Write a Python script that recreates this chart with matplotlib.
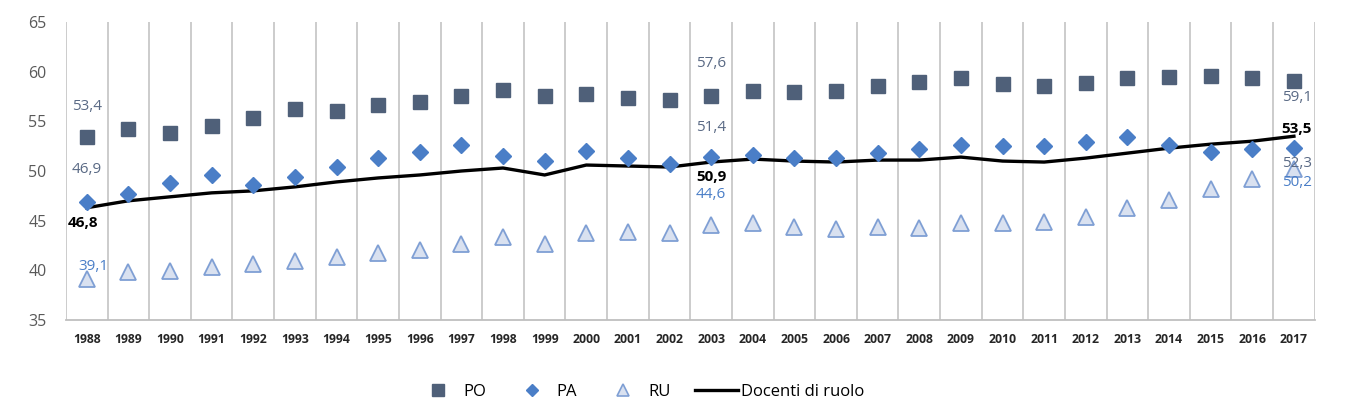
import matplotlib
matplotlib.use("Agg")
import matplotlib.pyplot as plt
from matplotlib.lines import Line2D

years = [str(y) for y in range(1988, 2018)]
po = [53.4, 54.2, 53.8, 54.5, 55.3, 56.2, 56.0, 56.6, 56.9, 57.6,
      58.2, 57.6, 57.8, 57.3, 57.1, 57.6, 58.1, 58.0, 58.1, 58.6,
      59.0, 59.4, 58.8, 58.6, 58.9, 59.4, 59.5, 59.6, 59.4, 59.1]
pa = [46.9, 47.7, 48.8, 49.6, 48.6, 49.4, 50.4, 51.3, 51.9, 52.6,
      51.5, 51.0, 52.0, 51.3, 50.7, 51.4, 51.6, 51.3, 51.3, 51.8,
      52.2, 52.6, 52.5, 52.5, 52.9, 53.4, 52.6, 51.9, 52.2, 52.3]
ru = [39.1, 39.8, 39.9, 40.3, 40.6, 40.9, 41.3, 41.7, 42.0, 42.7,
      43.4, 42.7, 43.8, 43.9, 43.8, 44.6, 44.8, 44.4, 44.2, 44.4,
      44.3, 44.8, 44.8, 44.9, 45.4, 46.3, 47.1, 48.2, 49.2, 50.2]
docenti = [46.3, 47.0, 47.4, 47.8, 48.0, 48.4, 48.9, 49.3, 49.6, 50.0,
           50.3, 49.6, 50.6, 50.5, 50.4, 50.9, 51.2, 51.0, 50.9, 51.1,
           51.1, 51.4, 51.0, 50.9, 51.3, 51.8, 52.3, 52.7, 53.0, 53.5]
doc_labels = {0: "46,8", 15: "50,9", 29: "53,5"}
labeled_idx = [0, 15, 29]

C_PO = "#4F6079"
C_PA = "#4A7EC7"
C_RU_FACE = "#D9E1F0"
C_RU_EDGE = "#7F9FD4"
C_LBL = "#5A6A85"
GRID = "#BFBFBF"

plt.rcParams['font.family'] = ['Open Sans', 'DejaVu Sans']

fig = plt.figure(figsize=(13.54, 4.12), dpi=100)
ax = fig.add_axes([0.0487, 0.2233, 0.9223, 0.7233])

x = list(range(len(years)))
ax.plot(x, docenti, color="black", lw=2.4, zorder=2)
ax.plot(x, po, ls="none", marker="s", ms=10.5, color=C_PO, zorder=3)
ax.plot(x, pa, ls="none", marker="D", ms=8, color=C_PA, zorder=3)
ax.plot(x, ru, ls="none", marker="^", ms=11, mfc=C_RU_FACE, mec=C_RU_EDGE,
        mew=1.3, zorder=3)

ax.set_xlim(-0.5, len(years) - 0.5)
ax.set_ylim(35, 65)
ax.set_yticks(range(35, 66, 5))
ax.set_xticks(x)
ax.set_xticklabels(years, fontsize=8.8, fontweight="bold", color="#262626")
ax.tick_params(axis="x", length=0, pad=9)
ax.tick_params(axis="y", length=0, pad=14, labelsize=11.5, labelcolor="#595959")

for b in [i - 0.5 for i in range(len(years) + 1)]:
    ax.axvline(b, color=GRID, lw=1.1, zorder=1)
for s in ["top", "right", "left"]:
    ax.spines[s].set_visible(False)
ax.spines["bottom"].set_color(GRID)
ax.spines["bottom"].set_linewidth(1.3)

def fmt(v):
    return f"{v:.1f}".replace(".", ",")

# data label offsets (points)
offs = {
    0: {"po": (0, 22), "pa": (0, 23), "ru": (5, 9), "doc": (-3, -11)},
    15: {"po": (0, 23), "pa": (0, 21), "ru": (0, 22), "doc": (0, -11)},
    29: {"po": (2, -12), "pa": (2, -11), "ru": (2, -10), "doc": (2, 5)},
}
for i in labeled_idx:
    o = offs[i]
    ax.annotate(fmt(po[i]), (i, po[i]), xytext=o["po"], textcoords="offset points",
                ha="center", va="center", fontsize=11, color=C_LBL, zorder=5)
    ax.annotate(fmt(pa[i]), (i, pa[i]), xytext=o["pa"], textcoords="offset points",
                ha="center", va="center", fontsize=11, color=C_LBL, zorder=5)
    ax.annotate(fmt(ru[i]), (i, ru[i]), xytext=o["ru"], textcoords="offset points",
                ha="center", va="center", fontsize=11, color=C_PA, zorder=5)
    ax.annotate(doc_labels[i], (i, docenti[i]), xytext=o["doc"], textcoords="offset points",
                ha="center", va="center", fontsize=11, fontweight="bold",
                color="black", zorder=5)

handles = [
    Line2D([], [], ls="none", marker="s", ms=8, color=C_PO),
    Line2D([], [], ls="none", marker="D", ms=6.5, color=C_PA),
    Line2D([], [], ls="none", marker="^", ms=9, mfc=C_RU_FACE, mec=C_RU_EDGE, mew=1.2),
    Line2D([], [], color="black", lw=2.4),
]
fig.legend(handles, ["PO", "PA", "RU", "Docenti di ruolo"], loc="center",
           bbox_to_anchor=(0.473, 0.048), ncol=4, frameon=False, fontsize=12,
           handlelength=2.6, columnspacing=1.45, handletextpad=0.2)

fig.savefig("out.png", dpi=100)
